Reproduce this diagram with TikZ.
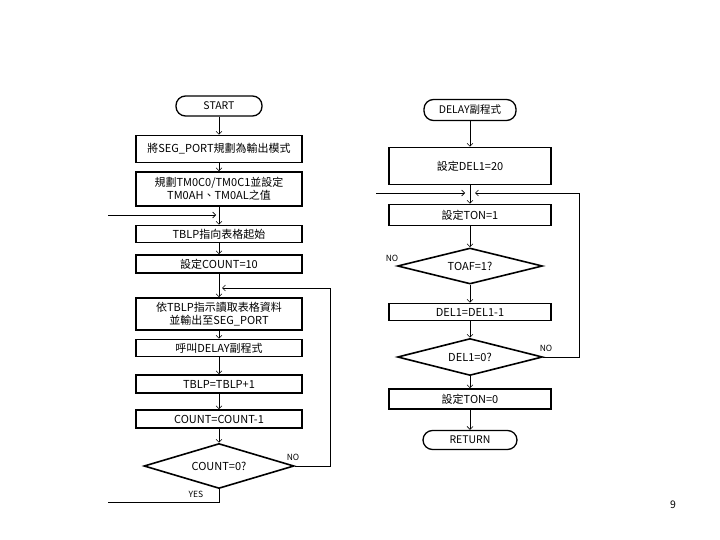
\documentclass[tikz,border=0pt]{standalone}
\usepackage{fontspec}
\setmainfont{Noto Sans CJK TC}
\usetikzlibrary{shapes.geometric,arrows.meta}
\begin{document}
\begin{tikzpicture}[x=1pt,y=-1pt,
  txt/.style={font=\fontsize{11}{13.5}\selectfont, align=center, inner sep=0pt},
  box/.style={txt, draw, line width=1.6pt, minimum width=166pt},
  rbox/.style={txt, draw, line width=1.6pt, minimum width=162pt},
  term/.style={txt, draw, line width=1.3pt, rounded corners=9.5pt, font=\fontsize{10.5}{12}\selectfont},
  dec/.style={txt, draw, line width=1.6pt, diamond, aspect=3},
  lab/.style={font=\fontsize{8.5}{10}\selectfont, inner sep=0pt},
  arr/.style={line width=0.6pt, -{Straight Barb[length=3pt,width=6pt]}},
  ln/.style={line width=0.8pt}]
\useasboundingbox (0,0) rectangle (720,540);
% ---- left chart ----
\node[term, minimum width=86pt, minimum height=20pt] (start) at (219,106) {START};
\node[box, minimum height=27pt] (b1) at (219,149) {將SEG\_PORT規劃為輸出模式};
\node[box, minimum height=34pt] (b2) at (219,189) {規劃TM0C0/TM0C1並設定\\TM0AH、TM0AL之值};
\node[box, minimum height=17pt] (b3) at (219,234) {TBLP指向表格起始};
\node[box, minimum height=18pt] (b4) at (219,264) {設定COUNT=10};
\node[box, minimum height=32pt] (b5) at (219,314) {依TBLP指示讀取表格資料\\並輸出至SEG\_PORT};
\node[box, minimum height=17pt] (b6) at (219,348) {呼叫DELAY副程式};
\node[box, minimum height=18pt] (b7) at (219,384) {TBLP=TBLP+1};
\node[box, minimum height=18pt] (b8) at (219,419) {COUNT=COUNT-1};
\node[dec, minimum width=150pt, minimum height=45pt] (d1) at (219,466) {COUNT=0?};
\node[lab] (no1) at (293,457) {NO};
\node[lab] (yes1) at (196,494) {YES};

\draw[arr] (start.south) -- (b1.north);
\draw[arr] (b1.south) -- (b2.north);
\draw[arr] (b2.south) -- (b3.north);
\draw[arr] (b3.south) -- (b4.north);
\draw[arr] (b4.south) -- (b5.north);
\draw[arr] (b5.south) -- (b6.north);
\draw[arr] (b6.south) -- (b7.north);
\draw[arr] (b7.south) -- (b8.north);
\draw[arr] (b8.south) -- (d1.north);

\coordinate (inL) at (108,215);
\draw[arr, shorten >=3pt] (inL) -- (inL -| b3.north);
\coordinate (loopR) at (330,288);
\draw[arr, shorten >=3pt] (d1.east) -| (loopR) -- (loopR -| b5.north);
\coordinate (yesL) at (108,502);
\draw[ln] (d1.south) |- (yesL);

% ---- right chart ----
\node[term, minimum width=92pt, minimum height=21pt] (sub) at (470,110) {DELAY副程式};
\node[rbox, minimum height=37pt] (r1) at (470,166) {設定DEL1=20};
\node[rbox, minimum height=21pt] (r2) at (470,215) {設定TON=1};
\node[dec, minimum width=145pt, minimum height=36pt] (d2) at (470,266) {TOAF=1?};
\node[rbox, minimum height=17pt] (r3) at (470,312) {DEL1=DEL1-1};
\node[dec, minimum width=145pt, minimum height=37pt] (d3) at (470,357) {DEL1=0?};
\node[rbox, minimum height=20pt] (r4) at (470,399) {設定TON=0};
\node[term, minimum width=94pt, minimum height=19pt] (ret) at (470,440) {RETURN};
\node[lab] (no2) at (392,258) {NO};
\node[lab] (no3) at (546,348) {NO};

\draw[arr] (sub.south) -- (r1.north);
\draw[arr] (r1.south) -- (r2.north);
\draw[arr] (r2.south) -- (d2.north);
\draw[arr] (d2.south) -- (r3.north);
\draw[arr] (r3.south) -- (d3.north);
\draw[arr] (d3.south) -- (r4.north);
\draw[arr] (r4.south) -- (ret.north);

\coordinate (rinL) at (376,193);
\draw[arr, shorten >=5pt] (rinL) -- (rinL -| r2.north);
\coordinate (rloop) at (579,193);
\draw[arr, shorten >=5pt] (d3.east) -| (rloop) -- (rloop -| r2.north);

\node[font=\fontsize{10.5}{12}\selectfont] (pg) at (673,505) {9};
\end{tikzpicture}
\end{document}
